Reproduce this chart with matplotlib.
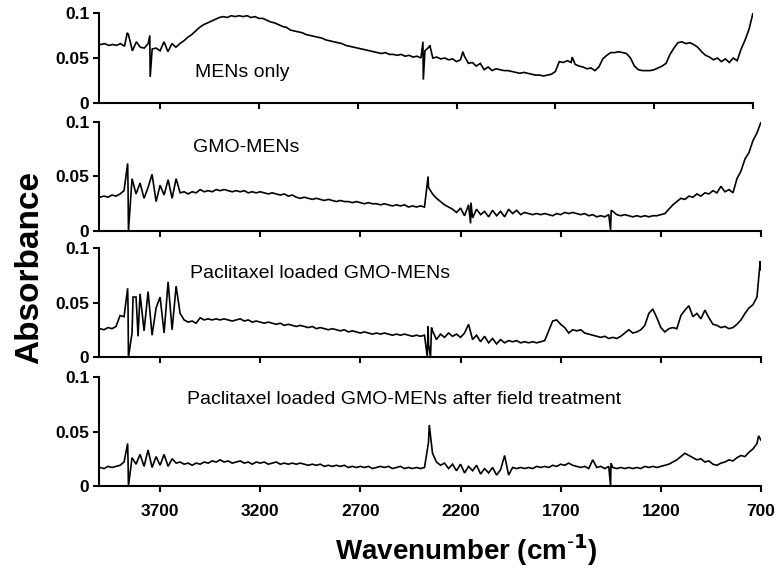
import numpy as np
import matplotlib
matplotlib.use("Agg")
import matplotlib.pyplot as plt

# ---------------- data ----------------
wavenumber = np.arange(4000, 699, -20)  # 4000 ... 700 (166 points)

labels = ["MENs only", "GMO-MENs", "Paclitaxel loaded GMO-MENs",
          "Paclitaxel loaded GMO-MENs after field treatment"]

mens_only = [
    0.065, 0.066, 0.064, 0.065, 0.064, 0.066, 0.063, 0.076, 0.058, 0.068,  # 4000-3820
    0.062, 0.061, 0.066, 0.060, 0.061, 0.058, 0.068, 0.057, 0.066, 0.062,  # 3800-3620
    0.066, 0.069, 0.073, 0.076, 0.080, 0.084, 0.087, 0.089, 0.091, 0.093,  # 3600-3420
    0.095, 0.096, 0.095, 0.097, 0.096, 0.097, 0.096, 0.097, 0.095, 0.096,  # 3400-3220
    0.094, 0.094, 0.092, 0.090, 0.089, 0.087, 0.085, 0.084, 0.081, 0.080,  # 3200-3020
    0.079, 0.078, 0.076, 0.075, 0.074, 0.073, 0.072, 0.070, 0.069, 0.068,  # 3000-2820
    0.067, 0.066, 0.064, 0.063, 0.062, 0.061, 0.060, 0.059, 0.058, 0.057,  # 2800-2620
    0.056, 0.055, 0.056, 0.054, 0.054, 0.053, 0.054, 0.052, 0.053, 0.051,  # 2600-2420
    0.052, 0.050, 0.058, 0.062, 0.050, 0.051, 0.049, 0.050, 0.048, 0.049,  # 2400-2220
    0.046, 0.048, 0.052, 0.044, 0.045, 0.041, 0.044, 0.037, 0.040, 0.036,  # 2200-2020
    0.038, 0.037, 0.036, 0.036, 0.035, 0.034, 0.033, 0.034, 0.033, 0.032,  # 2000-1820
    0.031, 0.031, 0.030, 0.031, 0.032, 0.035, 0.046, 0.045, 0.047, 0.045,  # 1800-1620
    0.043, 0.041, 0.040, 0.038, 0.039, 0.036, 0.040, 0.049, 0.053, 0.056,  # 1600-1420
    0.056, 0.057, 0.056, 0.055, 0.050, 0.041, 0.037, 0.036, 0.036, 0.036,  # 1400-1220
    0.037, 0.039, 0.041, 0.044, 0.054, 0.061, 0.067, 0.068, 0.066, 0.067,  # 1200-1020
    0.065, 0.062, 0.057, 0.053, 0.051, 0.048, 0.050, 0.046, 0.049, 0.045,  # 1000-820
    0.050, 0.047, 0.060, 0.070, 0.082, 0.100,                              # 800-700
]
mens_only_spikes = [(3866, 0.078), (3752, 0.075), (3750, 0.029), (2370, 0.068),
                    (2368, 0.026), (2335, 0.064), (2168, 0.057), (1615, 0.051)]

gmo_mens = [
    0.031, 0.032, 0.031, 0.033, 0.032, 0.034, 0.037, 0.040, 0.048, 0.034,  # 4000-3820
    0.044, 0.030, 0.040, 0.052, 0.027, 0.042, 0.033, 0.047, 0.030, 0.048,  # 3800-3620
    0.035, 0.036, 0.034, 0.036, 0.035, 0.038, 0.036, 0.037, 0.036, 0.038,  # 3600-3420
    0.037, 0.038, 0.037, 0.036, 0.037, 0.036, 0.037, 0.035, 0.036, 0.035,  # 3400-3220
    0.036, 0.035, 0.034, 0.035, 0.034, 0.033, 0.034, 0.032, 0.033, 0.031,  # 3200-3020
    0.030, 0.031, 0.030, 0.029, 0.030, 0.029, 0.028, 0.029, 0.028, 0.027,  # 3000-2820
    0.028, 0.027, 0.027, 0.026, 0.027, 0.026, 0.025, 0.026, 0.025, 0.025,  # 2800-2620
    0.024, 0.025, 0.024, 0.023, 0.024, 0.023, 0.024, 0.022, 0.023, 0.022,  # 2600-2420
    0.023, 0.022, 0.040, 0.034, 0.030, 0.027, 0.024, 0.022, 0.020, 0.017,  # 2400-2220
    0.021, 0.014, 0.024, 0.012, 0.020, 0.015, 0.018, 0.013, 0.019, 0.014,  # 2200-2020
    0.018, 0.013, 0.020, 0.016, 0.019, 0.015, 0.017, 0.016, 0.015, 0.016,  # 2000-1820
    0.015, 0.016, 0.015, 0.014, 0.016, 0.015, 0.017, 0.016, 0.017, 0.016,  # 1800-1620
    0.015, 0.016, 0.014, 0.015, 0.013, 0.014, 0.013, 0.015, 0.018, 0.015,  # 1600-1420
    0.014, 0.015, 0.014, 0.013, 0.014, 0.013, 0.014, 0.013, 0.014, 0.014,  # 1400-1220
    0.015, 0.016, 0.020, 0.024, 0.027, 0.030, 0.029, 0.032, 0.031, 0.034,  # 1200-1020
    0.032, 0.035, 0.034, 0.037, 0.035, 0.041, 0.036, 0.038, 0.035, 0.048,  # 1000-820
    0.055, 0.066, 0.072, 0.083, 0.090, 0.100,                              # 800-700
]
gmo_mens_spikes = [(3862, 0.062), (3858, 0.0), (2362, 0.050), (2150, 0.007),
                   (2148, 0.026), (1451, 0.001), (1448, 0.019)]

paclitaxel = [
    0.026, 0.025, 0.027, 0.026, 0.028, 0.038, 0.037, 0.045, 0.022, 0.055,  # 4000-3820
    0.058, 0.024, 0.060, 0.020, 0.045, 0.055, 0.022, 0.069, 0.025, 0.065,  # 3800-3620
    0.040, 0.034, 0.032, 0.033, 0.031, 0.036, 0.034, 0.035, 0.034, 0.035,  # 3600-3420
    0.034, 0.035, 0.034, 0.033, 0.034, 0.035, 0.033, 0.034, 0.032, 0.033,  # 3400-3220
    0.032, 0.031, 0.032, 0.031, 0.030, 0.031, 0.029, 0.030, 0.029, 0.028,  # 3200-3020
    0.029, 0.028, 0.027, 0.028, 0.026, 0.027, 0.026, 0.025, 0.026, 0.025,  # 3000-2820
    0.024, 0.025, 0.023, 0.024, 0.023, 0.022, 0.023, 0.022, 0.021, 0.022,  # 2800-2620
    0.021, 0.022, 0.021, 0.020, 0.021, 0.020, 0.021, 0.020, 0.019, 0.020,  # 2600-2420
    0.019, 0.020, 0.012, 0.024, 0.016, 0.021, 0.018, 0.022, 0.019, 0.021,  # 2400-2220
    0.018, 0.022, 0.030, 0.016, 0.020, 0.014, 0.019, 0.013, 0.017, 0.012,  # 2200-2020
    0.016, 0.013, 0.015, 0.014, 0.015, 0.013, 0.014, 0.013, 0.014, 0.013,  # 2000-1820
    0.014, 0.015, 0.024, 0.033, 0.034, 0.030, 0.027, 0.022, 0.025, 0.024,  # 1800-1620
    0.025, 0.022, 0.021, 0.020, 0.019, 0.018, 0.019, 0.017, 0.018, 0.017,  # 1600-1420
    0.019, 0.022, 0.025, 0.022, 0.023, 0.025, 0.029, 0.040, 0.044, 0.036,  # 1400-1220
    0.027, 0.023, 0.026, 0.027, 0.026, 0.038, 0.043, 0.047, 0.037, 0.040,  # 1200-1020
    0.035, 0.043, 0.036, 0.030, 0.029, 0.027, 0.028, 0.026, 0.027, 0.030,  # 1000-820
    0.034, 0.040, 0.045, 0.048, 0.055, 0.080,                              # 800-700
]
paclitaxel_spikes = [(3862, 0.063), (3858, 0.0), (3835, 0.055), (3810, 0.019),
                     (2366, 0.0), (2362, 0.028), (2350, 0.0), (2345, 0.027),
                     (704, 0.088)]

after_field = [
    0.017, 0.016, 0.018, 0.017, 0.018, 0.019, 0.022, 0.023, 0.026, 0.020,  # 4000-3820
    0.029, 0.018, 0.033, 0.017, 0.027, 0.019, 0.029, 0.018, 0.025, 0.021,  # 3800-3620
    0.022, 0.020, 0.021, 0.019, 0.021, 0.020, 0.022, 0.021, 0.023, 0.022,  # 3600-3420
    0.024, 0.022, 0.023, 0.021, 0.022, 0.023, 0.021, 0.022, 0.020, 0.022,  # 3400-3220
    0.021, 0.022, 0.020, 0.021, 0.022, 0.020, 0.021, 0.020, 0.021, 0.020,  # 3200-3020
    0.021, 0.020, 0.019, 0.020, 0.019, 0.020, 0.018, 0.019, 0.018, 0.019,  # 3000-2820
    0.018, 0.019, 0.017, 0.018, 0.017, 0.018, 0.017, 0.018, 0.016, 0.017,  # 2800-2620
    0.018, 0.017, 0.018, 0.016, 0.017, 0.018, 0.016, 0.017, 0.016, 0.017,  # 2600-2420
    0.016, 0.017, 0.040, 0.030, 0.022, 0.019, 0.021, 0.016, 0.020, 0.014,  # 2400-2220
    0.020, 0.012, 0.018, 0.014, 0.019, 0.011, 0.016, 0.012, 0.017, 0.010,  # 2200-2020
    0.015, 0.028, 0.010, 0.017, 0.016, 0.017, 0.016, 0.017, 0.016, 0.018,  # 2000-1820
    0.017, 0.018, 0.017, 0.019, 0.018, 0.020, 0.019, 0.021, 0.019, 0.018,  # 1800-1620
    0.017, 0.018, 0.016, 0.024, 0.017, 0.018, 0.016, 0.018, 0.017, 0.016,  # 1600-1420
    0.017, 0.016, 0.017, 0.016, 0.017, 0.016, 0.018, 0.017, 0.018, 0.017,  # 1400-1220
    0.018, 0.019, 0.020, 0.022, 0.024, 0.027, 0.030, 0.028, 0.026, 0.024,  # 1200-1020
    0.025, 0.022, 0.023, 0.020, 0.019, 0.021, 0.022, 0.024, 0.023, 0.026,  # 1000-820
    0.028, 0.027, 0.031, 0.034, 0.039, 0.042,                              # 800-700
]
after_field_spikes = [(3862, 0.039), (3858, 0.0), (2356, 0.056), (1451, 0.0),
                      (1449, 0.021), (712, 0.046)]

series = [(mens_only, mens_only_spikes), (gmo_mens, gmo_mens_spikes),
          (paclitaxel, paclitaxel_spikes), (after_field, after_field_spikes)]

y_ticks = [0, 0.05, 0.1]
y_ticklabels = ["0", "0.05", "0.1"]
x_ticks = [3700, 3200, 2700, 2200, 1700, 1200, 700]

# ---------------- figure ----------------
plt.rcParams['font.family'] = ['Liberation Sans', 'DejaVu Sans']
fig = plt.figure(figsize=(7.8, 5.73), dpi=100)

W, H = 780.0, 573.0
# (left px, right px, top px, bottom px)
boxes = [(99, 753, 13, 103), (99, 761, 122, 231), (99, 761, 248, 357), (99, 761, 377, 486)]
xlims = [(4009, 700), (4005, 700), (4005, 700), (4005, 700)]
label_pos = [(0.147, 0.34), (0.142, 0.77), (0.137, 0.77), (0.133, 0.79)]

axes = []
for i, ((vals, spikes), (l, r, t, b)) in enumerate(zip(series, boxes)):
    ax = fig.add_axes([l / W, 1 - b / H, (r - l) / W, (b - t) / H])
    pts = list(zip(wavenumber.tolist(), vals)) + list(spikes)
    pts.sort(key=lambda p: -p[0])
    xs = [p[0] for p in pts]
    ys = [p[1] for p in pts]
    ax.plot(xs, ys, color='black', lw=1.2, solid_joinstyle='miter')
    ax.set_xlim(*xlims[i])
    ax.set_ylim(0, 0.1)
    ax.set_yticks(y_ticks)
    ax.set_yticklabels(y_ticklabels)
    ax.set_xticks(x_ticks)
    for s in ['top', 'right']:
        ax.spines[s].set_visible(False)
    for s in ['left', 'bottom']:
        ax.spines[s].set_linewidth(1.5)
    ax.tick_params(direction='out', length=4, width=1.5, labelsize=12.5, pad=3)
    for lab in ax.get_yticklabels():
        lab.set_fontweight('bold')
    if i < 3:
        ax.tick_params(axis='x', labelbottom=False)
    else:
        ax.tick_params(axis='x', pad=9)
        for lab in ax.get_xticklabels():
            lab.set_fontweight('bold')
    ax.text(label_pos[i][0], label_pos[i][1], labels[i], transform=ax.transAxes,
            fontsize=14, ha='left', va='center')
    axes.append(ax)

fig.text(30 / W, 1 - 268 / H, "Absorbance", rotation=90, fontsize=24,
         fontweight='bold', ha='center', va='center')
# x label: main text plus a small raised "-1" and closing bracket
xl = fig.text(466 / W, 1 - 550 / H, "Wavenumber (cm$^{\\mathbf{\\text{-}1}}$)",
              fontsize=20, fontweight='bold', ha='center', va='center')

fig.savefig("out.png", dpi=100)
